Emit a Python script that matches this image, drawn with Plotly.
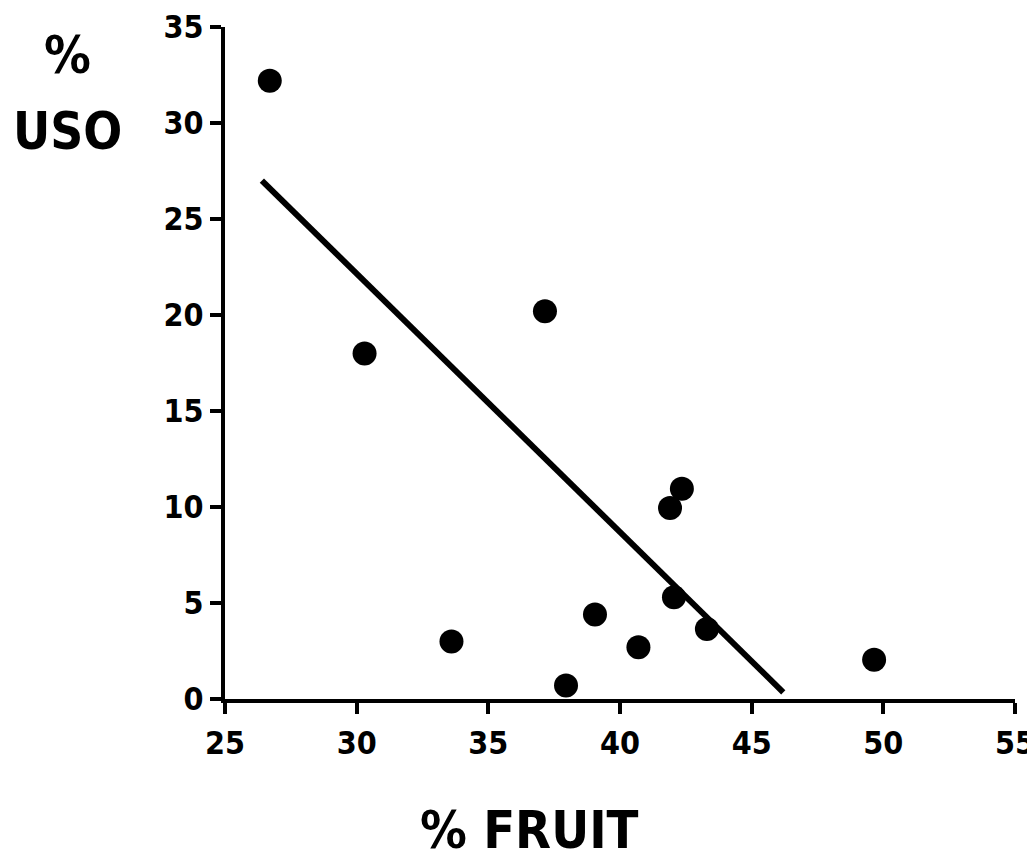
import plotly.graph_objects as go

fruit_pct = [26.7, 30.3, 33.6, 37.15, 37.95, 39.05, 40.7, 41.9, 42.35, 42.05, 43.3, 49.65]
uso_pct = [32.2, 18.0, 3.0, 20.2, 0.7, 4.4, 2.7, 9.95, 10.95, 5.3, 3.65, 2.05]
fit_x = [26.4, 46.2]
fit_y = [27.0, 0.35]
x_ticks = [25, 30, 35, 40, 45, 50, 55]
y_ticks = [0, 5, 10, 15, 20, 25, 30, 35]

FONT = "DejaVu Sans Condensed, Liberation Sans Narrow, Arial Narrow, sans-serif"

fig = go.Figure()
fig.add_trace(go.Scatter(x=fit_x, y=fit_y, mode="lines",
                         line=dict(color="black", width=6), showlegend=False))
fig.add_trace(go.Scatter(x=fruit_pct, y=uso_pct, mode="markers",
                         marker=dict(color="black", size=24), showlegend=False))

axis_common = dict(showgrid=False, zeroline=False, showline=True, linecolor="black",
                   linewidth=4, ticks="outside", ticklen=11, tickwidth=4, tickcolor="black",
                   automargin=False, ticklabeloverflow="allow",
                   tickfont=dict(family=FONT, size=32, color="black", weight="bold"))
fig.update_xaxes(range=[25, 55], tickvals=x_ticks, ticklabelstandoff=2, **axis_common)
fig.update_yaxes(range=[0, 35], tickvals=y_ticks, ticklabelstandoff=0, **axis_common)

# the page body adds an 8px offset, so the figure is sized to fit the window
fig.update_layout(
    width=1027, height=858,
    margin=dict(l=217, r=20, t=19, b=167),
    plot_bgcolor="white", paper_bgcolor="white",
    annotations=[
        dict(text="% FRUIT", xref="paper", yref="paper", x=0.386, y=-0.195,
             showarrow=False, font=dict(family=FONT, size=52, color="black", weight="bold"),
             xanchor="center", yanchor="middle"),
        dict(text="%", xref="paper", yref="paper", x=-0.199, y=0.958,
             showarrow=False, font=dict(family=FONT, size=52, color="black", weight="bold"),
             xanchor="center", yanchor="middle"),
        dict(text="USO", xref="paper", yref="paper", x=-0.199, y=0.844,
             showarrow=False, font=dict(family=FONT, size=51, color="black", weight="bold"),
             xanchor="center", yanchor="middle"),
    ],
)
fig.write_html("out.html")
